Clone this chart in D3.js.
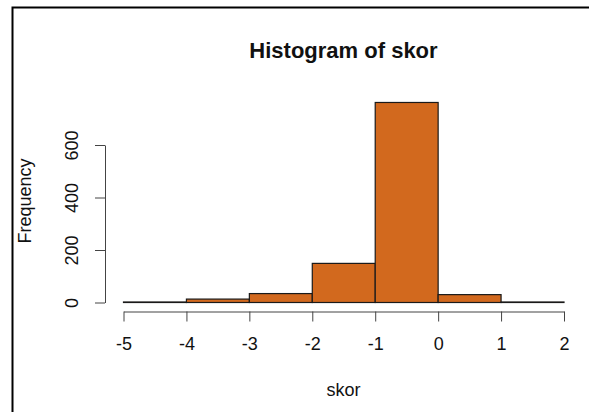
<!DOCTYPE html>
<html>
  <head>
    <script src="https://d3js.org/d3.v7.min.js"></script>
    <style>
      body { margin: 0; background: #fff; }
      text { font-family: "Liberation Sans", Arial, sans-serif; }
    </style>
  </head>
  <body>
    <script type="text/javascript">

    // histogram of skor: bin edges and counts per bin
    var binStarts = [-5, -4, -3, -2, -1, 0, 1];
    var binWidth = 1;
    var counts = [2, 13, 34, 149, 762, 30, 2];
    var xTicks = [-5, -4, -3, -2, -1, 0, 1, 2];
    var yTicks = [0, 200, 400, 600];

    var width = 589, height = 412;

    var svg = d3.select("body").append("svg")
        .attr("width", width)
        .attr("height", height);

    svg.append("rect")
        .attr("width", width).attr("height", height)
        .attr("fill", "#fff");

    // frame (left and top edges visible only)
    svg.append("path")
        .attr("d", "M12.5," + height + "V7.5H" + width)
        .attr("fill", "none")
        .attr("stroke", "#000")
        .attr("stroke-width", 2);

    var x = d3.scaleLinear().domain([-5, 2]).range([123.5, 564]);
    var y = d3.scaleLinear().domain([0, 600]).range([302.5, 145]);

    // bars
    svg.append("g").selectAll("rect")
        .data(binStarts)
        .enter()
        .append("rect")
          .attr("x", function (d) { return x(d); })
          .attr("width", function (d) { return x(d + binWidth) - x(d); })
          .attr("y", function (d, i) { return y(counts[i]); })
          .attr("height", function (d, i) { return y(0) - y(counts[i]); })
          .attr("fill", "#D2691E")
          .attr("stroke", "#1a1a1a")
          .attr("stroke-width", 1.2);

    // x axis
    var xAxis = svg.append("g")
        .attr("transform", "translate(0,311.5)")
        .call(d3.axisBottom(x).tickValues(xTicks).tickSize(10).tickSizeOuter(0)
          .tickFormat(d3.format("d")));
    xAxis.select(".domain").attr("stroke", "#444");
    xAxis.selectAll(".tick line").attr("stroke", "#444");
    xAxis.selectAll(".tick text")
        .attr("y", 26)
        .attr("fill", "#111")
        .style("font-size", "18px")
        .text(function (d) { return String(d).replace("\u2212", "-"); });

    // y axis
    var yAxis = svg.append("g")
        .attr("transform", "translate(105,0)")
        .call(d3.axisLeft(y).tickValues(yTicks).tickSize(10).tickSizeOuter(0));
    yAxis.select(".domain").attr("stroke", "#444");
    yAxis.selectAll(".tick line").attr("stroke", "#444");
    yAxis.selectAll(".tick text")
        .attr("x", 0).attr("y", 0).attr("dy", null)
        .attr("text-anchor", "middle")
        .attr("transform", "translate(-27,0) rotate(-90)")
        .attr("fill", "#111")
        .style("font-size", "18px");

    // titles
    svg.append("text")
        .attr("x", 343.5).attr("y", 58)
        .attr("text-anchor", "middle")
        .style("font-size", "22px")
        .style("font-weight", "bold")
        .attr("fill", "#111")
        .text("Histogram of skor");

    svg.append("text")
        .attr("x", 343.5).attr("y", 396)
        .attr("text-anchor", "middle")
        .style("font-size", "18px")
        .attr("fill", "#111")
        .text("skor");

    svg.append("text")
        .attr("transform", "translate(31,201) rotate(-90)")
        .attr("text-anchor", "middle")
        .style("font-size", "18px")
        .attr("fill", "#111")
        .text("Frequency");

    </script>
  </body>
</html>
